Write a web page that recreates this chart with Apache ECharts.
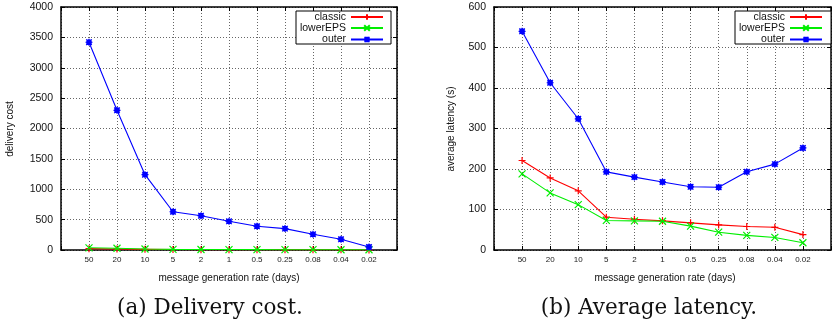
<!DOCTYPE html>
<html>
<head>
<meta charset="utf-8">
<title>Delivery cost and average latency</title>
<script src="https://cdn.jsdelivr.net/npm/echarts@6/dist/echarts.min.js"></script>
<style>
  html, body { margin: 0; padding: 0; background: #fff; }
  #chart { width: 834px; height: 325px; }
</style>
</head>
<body>
<div id="chart"></div>
<script>
// Message generation rate (days), shown as evenly spaced categories
const categories = ['50', '20', '10', '5', '2', '1', '0.5', '0.25', '0.08', '0.04', '0.02'];

// (a) Delivery cost
const costClassic  = [22, 17, 11, 7, 5, 4, 4, 3, 3, 3, 2];
const costLowerEPS = [36, 28, 16, 10, 8, 7, 6, 5, 5, 4, 4];
const costOuter    = [3420, 2300, 1240, 630, 565, 472, 390, 352, 258, 176, 49];

// (b) Average latency (s)
const latClassic  = [221, 178, 146, 81, 76, 72, 67, 62, 58, 56, 38];
const latLowerEPS = [188, 141, 112, 73, 72, 71, 59, 44, 36, 31, 18];
const latOuter    = [540, 413, 324, 193, 180, 168, 156, 155, 193, 212, 252];

const costAxis = { min: 0, max: 4000, interval: 500 };
const latAxis  = { min: 0, max: 600, interval: 100 };

const seriesNames = ['classic', 'lowerEPS', 'outer'];
const seriesColors = ['#ff0000', '#00ee00', '#0000ff'];
const plusPath  = 'path://M0,5L10,5M5,0L5,10';
const crossPath = 'path://M1,1L9,9M9,1L1,9';
const starPath  = 'path://M0,5L10,5M5,0L5,10M1,1L9,9M9,1L1,9M2,2L8,2L8,8L2,8Z';
const seriesSymbols = [plusPath, crossPath, starPath];

const FONT = 'Liberation Sans, Arial, sans-serif';
const SERIF = 'DejaVu Serif, serif';

const gridLine = { show: true, lineStyle: { color: '#666', type: [1, 2], width: 1 } };
const frameLine = { show: true, onZero: false, lineStyle: { color: '#000', width: 1.5 } };
const innerTick = { show: true, inside: true, length: 4, lineStyle: { color: '#000', width: 1 } };

function catLabel(v) {
  return (v >= 0 && v < categories.length && Number.isInteger(v)) ? categories[v] : '';
}

function xAxes(gridIndex) {
  return [
    {
      type: 'value', gridIndex, position: 'bottom',
      min: -1, max: categories.length, interval: 1,
      axisLine: frameLine, axisTick: innerTick, splitLine: gridLine,
      axisLabel: { formatter: catLabel, fontSize: 8, fontFamily: FONT, color: '#222', margin: 6,
                   showMinLabel: true, showMaxLabel: true }
    },
    {
      type: 'value', gridIndex, position: 'top',
      min: -1, max: categories.length, interval: 1,
      axisLine: frameLine, axisTick: innerTick, splitLine: { show: false },
      axisLabel: { show: false }
    }
  ];
}

function yAxes(gridIndex, range) {
  return [
    {
      type: 'value', gridIndex, position: 'left',
      min: range.min, max: range.max, interval: range.interval,
      axisLine: frameLine, axisTick: innerTick, splitLine: gridLine,
      axisLabel: { fontSize: 10.5, fontFamily: FONT, color: '#111', margin: 8, formatter: v => String(v) }
    },
    {
      type: 'value', gridIndex, position: 'right',
      min: range.min, max: range.max, interval: range.interval,
      axisLine: frameLine, axisTick: innerTick, splitLine: { show: false },
      axisLabel: { show: false }
    }
  ];
}

function makeSeries(gridIndex, valueSets) {
  return valueSets.map((vals, k) => ({
    name: seriesNames[k],
    type: 'line',
    xAxisIndex: gridIndex * 2,
    yAxisIndex: gridIndex * 2,
    data: vals.map((v, i) => [i, v]),
    symbol: seriesSymbols[k],
    symbolSize: 7,
    showSymbol: true,
    lineStyle: { color: seriesColors[k], width: 1.1 },
    itemStyle: { color: 'rgba(0,0,0,0)', borderColor: seriesColors[k], borderWidth: 1.2 },
    emphasis: { disabled: true },
    animation: false,
    z: 3 + k
  }));
}

// one legend per entry so every row is right-aligned against the plot frame
function legends(rightOffset) {
  const rowTops = [11.5, 22.5, 34];
  return seriesNames.map((name, k) => ({
    data: [name],
    right: rightOffset,
    top: rowTops[k],
    align: 'right',
    orient: 'vertical',
    padding: 0,
    itemWidth: 32,
    itemHeight: 7,
    selectedMode: false,
    z: 30,
    textStyle: { fontSize: 10.5, fontFamily: FONT, color: '#111', lineHeight: 11 }
  }));
}

const chart = echarts.init(document.getElementById('chart'), null, { renderer: 'canvas' });

chart.setOption({
  backgroundColor: '#fff',
  animation: false,
  grid: [
    { left: 61, top: 7, width: 336, height: 243 },
    { left: 494, top: 7, width: 343, height: 243 }
  ],
  xAxis: [...xAxes(0), ...xAxes(1)],
  yAxis: [...yAxes(0, costAxis), ...yAxes(1, latAxis)],
  legend: [...legends(450), ...legends(11)],
  series: [
    ...makeSeries(0, [costClassic, costLowerEPS, costOuter]),
    ...makeSeries(1, [latClassic, latLowerEPS, latOuter])
  ],
  graphic: [
    // legend frames
    { type: 'rect', shape: { x: 296, y: 11, width: 95, height: 33 }, z: 10,
      style: { fill: '#fff', stroke: '#000', lineWidth: 1 } },
    { type: 'rect', shape: { x: 735, y: 11, width: 96, height: 33 }, z: 10,
      style: { fill: '#fff', stroke: '#000', lineWidth: 1 } },
    // axis titles
    { type: 'text', x: 10, y: 129, rotation: Math.PI / 2, z: 20,
      style: { text: 'delivery cost', font: '10px ' + FONT, fill: '#111', align: 'center', verticalAlign: 'middle' } },
    { type: 'text', x: 451, y: 129, rotation: Math.PI / 2, z: 20,
      style: { text: 'average latency (s)', font: '10px ' + FONT, fill: '#111', align: 'center', verticalAlign: 'middle' } },
    { type: 'text', x: 229, y: 278, z: 20,
      style: { text: 'message generation rate (days)', font: '10px ' + FONT, fill: '#111', align: 'center', verticalAlign: 'middle' } },
    { type: 'text', x: 665, y: 278, z: 20,
      style: { text: 'message generation rate (days)', font: '10px ' + FONT, fill: '#111', align: 'center', verticalAlign: 'middle' } },
    // sub-figure captions
    { type: 'text', x: 210, y: 308, z: 20,
      style: { text: '(a) Delivery cost.', font: '21.5px ' + SERIF, fill: '#111', align: 'center', verticalAlign: 'middle' } },
    { type: 'text', x: 649, y: 308, z: 20,
      style: { text: '(b) Average latency.', font: '21.5px ' + SERIF, fill: '#111', align: 'center', verticalAlign: 'middle' } }
  ]
});
</script>
</body>
</html>
